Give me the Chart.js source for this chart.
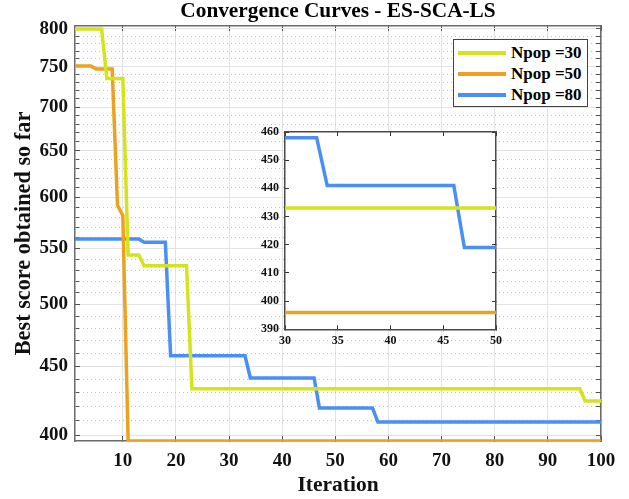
<!DOCTYPE html>
<html>
<head>
<meta charset="utf-8">
<script src="https://cdn.jsdelivr.net/npm/chart.js"></script>
<style>
    body { margin: 0; background: #fff; }
    #wrap { position: relative; width: 629px; height: 499px; }
    #mainChart { position: absolute; left: 0; top: 0; }
    #insetChart { position: absolute; left: 255px; top: 108px; }
    #legend {
        position: absolute; left: 453px; top: 39px; width: 133px; height: 66px;
        border: 1.5px solid #444; background: #fff; box-sizing: content-box;
        font: bold 17px 'Liberation Serif', 'Times New Roman', serif; color: #000;
    }
    .row { position: absolute; left: 0; height: 21px; line-height: 21px; white-space: nowrap; }
    .swatch { position: absolute; left: 4px; top: 9px; width: 48px; height: 4px; }
    .txt { position: absolute; left: 57px; top: 0; }
</style>
</head>
<body>
<div id="wrap">
    <canvas id="mainChart" width="629" height="499"></canvas>
    <canvas id="insetChart" width="265" height="244"></canvas>
    <div id="legend"></div>
</div>
<script>
// Datos (iteración, mejor puntuación) en los cambios de escalón
const iterN30 = [1, 6, 7, 10, 11, 13, 14, 22, 23, 96, 97, 100];
const scoreN30 = [800, 800, 735, 735, 544, 544, 534, 534, 433, 433, 424, 424];
const iterN50 = [1, 4, 5, 8, 9, 10, 11, 100];
const scoreN50 = [751, 751, 747, 747, 592, 582, 396, 396];
const iterN80 = [1, 13, 14, 18, 19, 33, 34, 46, 47, 57, 58, 100];
const scoreN80 = [559, 559, 556, 556, 458, 458, 441, 441, 419, 419, 409, 409];
const seriesLabels = ['Npop =30', 'Npop =50', 'Npop =80'];
const seriesColors = ['#d3e41c', '#eda21f', '#4a8ff3'];

const xTicks = [10, 20, 30, 40, 50, 60, 70, 80, 90, 100];
const yLabelTicks = [400, 450, 500, 550, 600, 650, 700, 750, 800];
const insetXTicks = [30, 35, 40, 45, 50];
const insetYTicks = [390, 400, 410, 420, 430, 440, 450, 460];

const yAllTicks = [];
for (let v = 400; v <= 800; v += 10) yAllTicks.push(v);

const FONT = "'Liberation Serif', 'Times New Roman', serif";
const AXIS_COLOR = '#6b6b6b';
const TICK_COLOR = '#505050';

function puntos(xs, ys) {
    return xs.map((x, i) => ({ x: x, y: ys[i] }));
}

function crearDatasets() {
    const series = [[iterN30, scoreN30], [iterN50, scoreN50], [iterN80, scoreN80]];
    return series.map((s, i) => ({
        label: seriesLabels[i],
        data: puntos(s[0], s[1]),
        borderColor: seriesColors[i],
        backgroundColor: seriesColors[i],
        borderWidth: 3.5,
        pointRadius: 0,
        tension: 0,
        fill: false
    }));
}

const setTicks = arr => scale => { scale.ticks = arr.map(v => ({ value: v })); };

const mainChart = new Chart(document.getElementById('mainChart'), {
    type: 'line',
    data: { datasets: crearDatasets() },
    options: {
        responsive: false,
        animation: false,
        layout: { padding: { left: 0, right: 28, top: 0, bottom: 0 } },
        plugins: {
            legend: { display: false },
            tooltip: { enabled: false },
            title: { display: false }
        },
        scales: {
            x: {
                type: 'linear', position: 'bottom', min: 1, max: 100, bounds: 'data',
                afterBuildTicks: setTicks(xTicks),
                afterFit: s => { s.height = 58; },
                grid: { color: '#e3e3e3', lineWidth: 1, tickLength: -5, tickColor: TICK_COLOR, tickWidth: 1 },
                border: { color: AXIS_COLOR, width: 1.5 },
                ticks: { autoSkip: false, maxRotation: 0, padding: 13.6, color: '#111', font: { family: FONT, size: 19, weight: 'bold' } },
                title: { display: true, text: 'Iteration', color: '#111', font: { family: FONT, size: 21.5, weight: 'bold' }, padding: { top: 0, bottom: 0.3 } }
            },
            xTop: {
                // el título del gráfico va centrado sobre el área de trazado
                type: 'linear', position: 'top', min: 1, max: 100, bounds: 'data',
                afterBuildTicks: setTicks(xTicks),
                afterFit: s => { s.height = 26; },
                grid: { drawOnChartArea: false, tickLength: -5, tickColor: TICK_COLOR },
                border: { color: AXIS_COLOR, width: 1.5 },
                ticks: { display: false },
                title: { display: true, text: 'Convergence Curves - ES-SCA-LS', color: '#000', font: { family: FONT, size: 21.3, weight: 'bold' }, padding: { top: -0.8, bottom: 0 } }
            },
            y: {
                type: 'logarithmic', position: 'left', min: 396, max: 804, bounds: 'data',
                afterBuildTicks: setTicks(yAllTicks),
                afterFit: s => { s.width = 75; },
                grid: {
                    color: c => (c.tick && yLabelTicks.includes(c.tick.value)) ? '#e3e3e3' : 'rgba(0,0,0,0)',
                    lineWidth: 1, tickLength: -5, tickColor: TICK_COLOR
                },
                border: { color: AXIS_COLOR, width: 1.5 },
                ticks: {
                    autoSkip: false, padding: 12, color: '#111',
                    font: { family: FONT, size: 19, weight: 'bold' },
                    callback: v => yLabelTicks.includes(v) ? String(v) : ''
                },
                title: { display: true, text: 'Best score obtained so far', color: '#111', font: { family: FONT, size: 22.3, weight: 'bold' }, padding: { top: 10.5, bottom: 0 } }
            },
            yMinor: {
                type: 'logarithmic', position: 'left', min: 396, max: 804, bounds: 'data',
                afterBuildTicks: setTicks(yAllTicks),
                afterFit: s => { s.width = 0; },
                grid: {
                    color: c => (c.tick && yLabelTicks.includes(c.tick.value)) ? 'rgba(0,0,0,0)' : '#c4c4c4',
                    lineWidth: 1, drawTicks: false
                },
                border: { display: false, dash: [1, 3] },
                ticks: { display: false, autoSkip: false }
            },
            yRight: {
                type: 'logarithmic', position: 'right', min: 396, max: 804, bounds: 'data',
                afterBuildTicks: setTicks(yAllTicks),
                afterFit: s => { s.width = 0; },
                grid: { drawOnChartArea: false, tickLength: -5, tickColor: TICK_COLOR },
                border: { color: AXIS_COLOR, width: 1.5 },
                ticks: { display: false, autoSkip: false }
            }
        }
    }
});

// Fondo blanco del recuadro ampliado
const fondoBlanco = {
    id: 'fondoBlanco',
    beforeDraw(chart) {
        const a = chart.chartArea;
        chart.ctx.save();
        chart.ctx.fillStyle = '#fff';
        chart.ctx.fillRect(a.left, a.top, a.right - a.left, a.bottom - a.top);
        chart.ctx.restore();
    }
};

const insetFont = { family: FONT, size: 12, weight: 'bold' };
const insetChart = new Chart(document.getElementById('insetChart'), {
    type: 'line',
    data: { datasets: crearDatasets() },
    plugins: [fondoBlanco],
    options: {
        responsive: false,
        animation: false,
        layout: { padding: { left: 0, right: 24, top: 24, bottom: 0 } },
        plugins: { legend: { display: false }, tooltip: { enabled: false }, title: { display: false } },
        scales: {
            x: {
                type: 'linear', position: 'bottom', min: 30, max: 50, bounds: 'data',
                afterBuildTicks: setTicks(insetXTicks),
                afterFit: s => { s.height = 22.7; },
                grid: { drawOnChartArea: false, tickLength: -4, tickColor: '#333' },
                border: { color: '#4a4a4a', width: 1.5 },
                ticks: { autoSkip: false, maxRotation: 0, padding: 8, color: '#111', font: insetFont }
            },
            xTop: {
                type: 'linear', position: 'top', min: 30, max: 50, bounds: 'data',
                afterBuildTicks: setTicks(insetXTicks),
                afterFit: s => { s.height = 0; },
                grid: { drawOnChartArea: false, tickLength: -4, tickColor: '#333' },
                border: { color: '#4a4a4a', width: 1.5 },
                ticks: { display: false }
            },
            y: {
                type: 'linear', position: 'left', min: 390, max: 460, bounds: 'data',
                afterBuildTicks: setTicks(insetYTicks),
                afterFit: s => { s.width = 30; },
                grid: { drawOnChartArea: false, tickLength: -4, tickColor: '#333' },
                border: { color: '#4a4a4a', width: 1.5 },
                ticks: { autoSkip: false, padding: 10, color: '#111', font: insetFont }
            },
            yRight: {
                type: 'linear', position: 'right', min: 390, max: 460, bounds: 'data',
                afterBuildTicks: setTicks(insetYTicks),
                afterFit: s => { s.width = 0; },
                grid: { drawOnChartArea: false, tickLength: -4, tickColor: '#333' },
                border: { color: '#4a4a4a', width: 1.5 },
                ticks: { display: false }
            }
        }
    }
});

// Leyenda en HTML a partir de los datasets
const legendDiv = document.getElementById('legend');
mainChart.data.datasets.forEach((ds, i) => {
    const row = document.createElement('div');
    row.className = 'row';
    row.style.top = (2 + i * 21) + 'px';
    row.innerHTML = '<span class="swatch" style="background:' + ds.borderColor + '"></span><span class="txt">' + ds.label + '</span>';
    legendDiv.appendChild(row);
});
</script>
</body>
</html>
